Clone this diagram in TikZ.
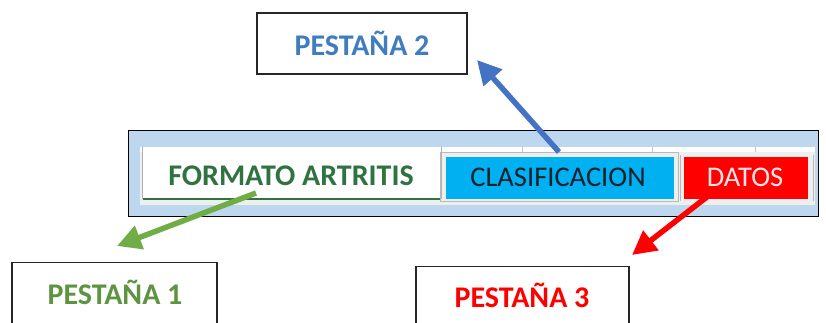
\documentclass[tikz,border=0pt]{standalone}
\usepackage{fontspec}
\setmainfont{Carlito}
\usetikzlibrary{arrows.meta}
\definecolor{frameblue}{HTML}{BDD7EE}
\definecolor{tabcyan}{HTML}{00B0F0}
\definecolor{stripgray}{HTML}{EEEEEE}
\definecolor{p2blue}{HTML}{3F7DC0}
\definecolor{p1green}{HTML}{5E9441}
\definecolor{tabgreen}{HTML}{2F7340}
\definecolor{arrowblue}{HTML}{4472C4}
\definecolor{arrowgreen}{HTML}{70AD47}
\definecolor{tabtextdark}{HTML}{10202E}
\definecolor{datostext}{HTML}{FFE6E6}
\begin{document}
\begin{tikzpicture}[x=1pt,y=-1pt,
  labelbox/.style={draw=black!85, line width=1.3pt, fill=white},
  boxtext/.style={font=\fontsize{30}{32}\selectfont\bfseries, inner sep=0},
  tabbox/.style={inner sep=0, anchor=center},
  tabtext/.style={font=\fontsize{28.5}{30}\selectfont, inner sep=0},
  bigarrow/.style={line width=5.5pt, -{Triangle[length=24pt,width=24pt]}}]
\clip (0,0) rectangle (826,322);
\fill[white] (0,0) rectangle (826,322);
% frame of the sheet tab bar
\node[draw=black, line width=1.3pt, fill=frameblue, minimum width=690, minimum height=86, anchor=north west, inner sep=0] (frame) at (128,130) {};
\fill[stripgray] (140,147) rectangle (815,205);
\fill[white] (140,147) rectangle (815,152);
\foreach \tx in {163,281,415,522,652,755} \draw[gray!45, line width=0.8pt] (\tx,147) -- (\tx,152);
% tab 1
\node[tabbox, fill=white, minimum width=298, minimum height=52] (tab1) at (292,173) {};
\draw[gray!60, line width=0.8pt] (tab1.north west) -- (tab1.south west) (tab1.north east) -- (tab1.south east);
\draw[tabgreen, line width=2pt] (tab1.south west) -- (tab1.south east);
\node[tabtext, font=\fontsize{30}{32}\selectfont\bfseries, text=tabgreen] (tab1text) at (291,176) {FORMATO ARTRITIS};
% tab 2
\node[tabbox, draw=gray!55, line width=0.8pt, minimum width=238, minimum height=49] (tab2frame) at (559.5,176.5) {};
\node[tabbox, fill=tabcyan, minimum width=228, minimum height=42] (tab2) at (560,178) {};
\node[tabtext, text=tabtextdark] (tab2text) at (558,177) {CLASIFICACION};
% tab 3
\draw[gray!55, line width=1pt] (680,155) -- (680,201);
\draw[gray!55, line width=1pt] (813,155) -- (813,201);
\node[tabbox, fill=red, minimum width=124, minimum height=42] (tab3) at (746,178) {};
\node[tabtext, text=datostext] (tab3text) at (745,177) {DATOS};
% label boxes
\node[labelbox, minimum width=210, minimum height=61, inner sep=0] (p2box) at (362,43.5) {};
\node[boxtext, text=p2blue] (p2) at (362,43) {PESTAÑA 2};
\node[labelbox, minimum width=205, minimum height=80, inner sep=0, anchor=north] (p1box) at (114.5,262) {};
\node[boxtext, text=p1green] (p1) at (115,292) {PESTAÑA 1};
\node[labelbox, minimum width=213, minimum height=80, inner sep=0, anchor=north] (p3box) at (522.5,266) {};
\node[boxtext, text=red] (p3) at (522,295) {PESTAÑA 3};
% arrows
\coordinate (b0) at (559,152);
\coordinate (b1) at (477,60);
\coordinate (g0) at (256,193);
\coordinate (g1) at (117,246);
\coordinate (r0) at (712,193);
\coordinate (r1) at (632,255);
\draw[bigarrow, arrowblue] (b0) -- (b1);
\draw[bigarrow, arrowgreen] (g0) -- (g1);
\draw[bigarrow, red] (r0) -- (r1);
\end{tikzpicture}
\end{document}
